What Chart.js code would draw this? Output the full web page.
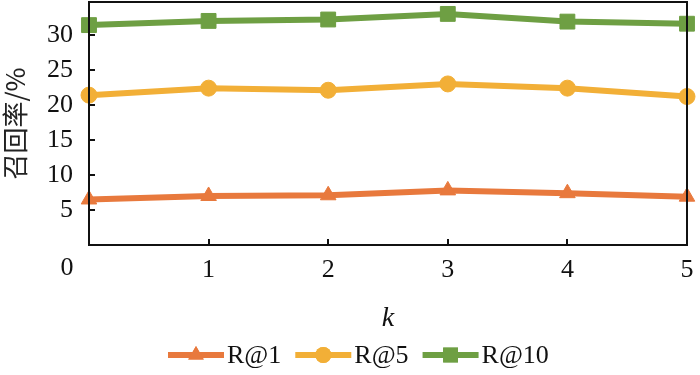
<!DOCTYPE html>
<html>
<head>
<meta charset="utf-8">
<script src="https://cdn.jsdelivr.net/npm/chart.js@4"></script>
<style>
  html, body { margin: 0; padding: 0; background: #fff; }
  #wrap { width: 700px; height: 375px; }
</style>
</head>
<body>
<div id="wrap"><canvas id="graphic" width="700" height="375"></canvas></div>
<script>
// ==========================================================================
// DATA
// ==========================================================================
const kValues = [0, 1, 2, 3, 4, 5];
const r1 = [6.5, 7.0, 7.1, 7.8, 7.4, 6.9];
const r5 = [21.4, 22.4, 22.1, 23.0, 22.4, 21.2];
const r10 = [31.4, 32.0, 32.2, 33.0, 31.9, 31.6];
const seriesNames = ['R@1', 'R@5', 'R@10'];
const xTickLabels = [0, 1, 2, 3, 4, 5];
const yTickLabels = [5, 10, 15, 20, 25, 30];

const serif = '"Liberation Serif", "Times New Roman", serif';
const colors = ['#E8793D', '#F2AF37', '#6E9F43'];
const markers = ['triangle', 'circle', 'rect'];
const radii = [9, 8, 10.5];

function points(vals){
  return vals.map((v, i) => ({ x: kValues[i], y: v }));
}

// ==========================================================================
// PLUGIN: frame, inward ticks, corner "0", legend
// ==========================================================================
const decorations = {
  id: 'decorations',
  afterDraw(chart){
    const ctx = chart.ctx;
    const a = chart.chartArea;
    const xs = chart.scales.x;
    const ys = chart.scales.y;
    ctx.save();
    ctx.strokeStyle = '#111';
    ctx.lineWidth = 2;
    ctx.strokeRect(a.left, a.top, a.right - a.left, a.bottom - a.top);

    ctx.beginPath();
    for(let v of xTickLabels){
      if(v === xs.min || v === xs.max) continue;
      const px = Math.round(xs.getPixelForValue(v));
      ctx.moveTo(px, a.bottom);
      ctx.lineTo(px, a.bottom - 6);
    }
    for(let v of yTickLabels){
      const py = Math.round(ys.getPixelForValue(v));
      ctx.moveTo(a.left, py);
      ctx.lineTo(a.left + 6, py);
    }
    ctx.stroke();

    ctx.fillStyle = '#111';
    ctx.font = '26px ' + serif;
    ctx.textAlign = 'center';
    ctx.textBaseline = 'middle';
    ctx.fillText('0', a.left - 22, a.bottom + 23);

    // legend: line + marker + text
    let x = 168;
    const y = 355;
    ctx.textAlign = 'left';
    chart.data.datasets.forEach((ds, i) => {
      ctx.strokeStyle = ds.borderColor;
      ctx.lineWidth = 6;
      ctx.beginPath();
      ctx.moveTo(x, y);
      ctx.lineTo(x + 56, y);
      ctx.stroke();
      ctx.fillStyle = ds.borderColor;
      Chart.helpers.drawPoint(ctx, { pointStyle: ds.pointStyle, rotation: 0, borderWidth: 0, radius: ds.pointRadius }, x + 28, y);
      ctx.fill();
      ctx.fillStyle = '#111';
      ctx.fillText(ds.label, x + 59, y + 1);
      x += 59 + ctx.measureText(ds.label).width + 14;
    });
    ctx.restore();
  }
};

// ==========================================================================
// GRAPHICS
// ==========================================================================
let ctx = document.getElementById('graphic').getContext('2d');
let myChart = new Chart(ctx, {
  type: 'line',
  data: {
    datasets: [r1, r5, r10].map((vals, i) => ({
      label: seriesNames[i],
      data: points(vals),
      borderColor: colors[i],
      backgroundColor: colors[i],
      borderWidth: 6,
      pointStyle: markers[i],
      pointRadius: radii[i],
      pointHoverRadius: radii[i],
      pointBorderWidth: 1,
      tension: 0,
      clip: false,
    }))
  },
  options: {
    responsive: false,
    animation: false,
    devicePixelRatio: 1,
    layout: { autoPadding: false, padding: { top: 2, right: 13, left: 0, bottom: 40 } },
    plugins: {
      legend: { display: false },
      tooltip: { enabled: false },
    },
    scales: {
      x: {
        type: 'linear',
        min: 0,
        max: 5,
        afterBuildTicks: s => { s.ticks = xTickLabels.map(v => ({ value: v })); },
        afterFit: s => {
          s.height = 90;
          s.paddingLeft = 0; s.paddingRight = 0;
          s.paddingTop = 0; s.paddingBottom = 0;
        },
        grid: { display: false, drawTicks: false },
        border: { display: false },
        ticks: {
          padding: 10,
          color: '#111',
          font: { family: serif, size: 26 },
          callback: v => v === 0 ? '' : String(v),
        },
        title: {
          display: true,
          text: 'k',
          color: '#111',
          font: { family: serif, size: 28, style: 'italic' },
          padding: { top: 6, bottom: 0 },
        },
      },
      y: {
        min: 0,
        max: 34.7,
        afterBuildTicks: s => { s.ticks = yTickLabels.map(v => ({ value: v })); },
        afterFit: s => {
          s.width = 89;
          s.paddingTop = 0; s.paddingBottom = 0;
          s.paddingLeft = 0; s.paddingRight = 0;
        },
        grid: { display: false, drawTicks: false },
        border: { display: false },
        ticks: {
          padding: 16,
          color: '#111',
          font: { family: serif, size: 26 },
        },
        title: {
          display: true,
          text: '召回率/%',
          color: '#222',
          font: { family: '"Noto Sans CJK SC", serif', size: 26, weight: 'normal' },
          padding: { top: 0, bottom: 2 },
        },
      },
    },
  },
  plugins: [decorations],
});
</script>
</body>
</html>
